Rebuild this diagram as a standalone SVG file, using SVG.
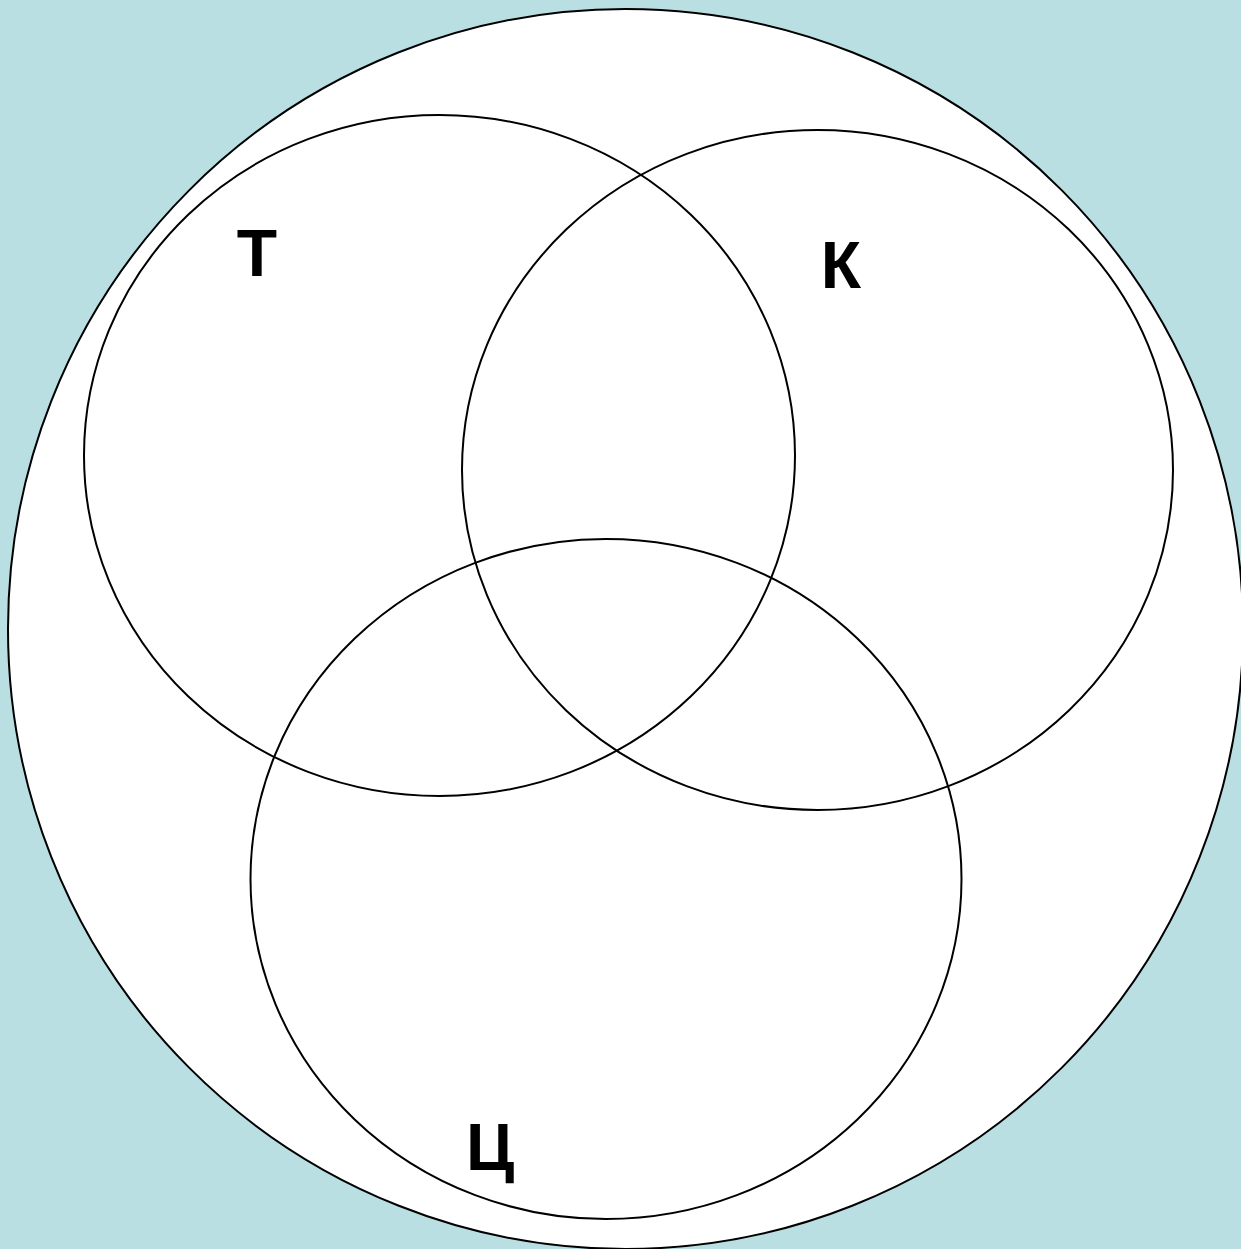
<svg xmlns="http://www.w3.org/2000/svg" width="1241" height="1249" viewBox="0 0 1241 1249">
<style>
.c{fill:none;stroke:#000;stroke-width:2}
.l{font-family:"Liberation Sans",Arial,sans-serif;font-weight:bold;font-size:66px;fill:#000;text-anchor:middle}
</style>
<rect width="1241" height="1249" fill="#b9dfe3"/>
<g id="universe"><ellipse cx="625.5" cy="629" rx="617.5" ry="620" fill="#fff" stroke="#000" stroke-width="2"/></g>
<g id="set-T"><ellipse class="c" cx="439.5" cy="455.5" rx="355.5" ry="340.5"/><text class="l" x="257" y="276">Т</text></g>
<g id="set-K"><ellipse class="c" cx="817.5" cy="470" rx="355.5" ry="340"/><text class="l" x="841" y="288">К</text></g>
<g id="set-C"><ellipse class="c" cx="606" cy="879" rx="355.5" ry="340"/><text class="l" x="490" y="1170">Ц</text></g>
</svg>
